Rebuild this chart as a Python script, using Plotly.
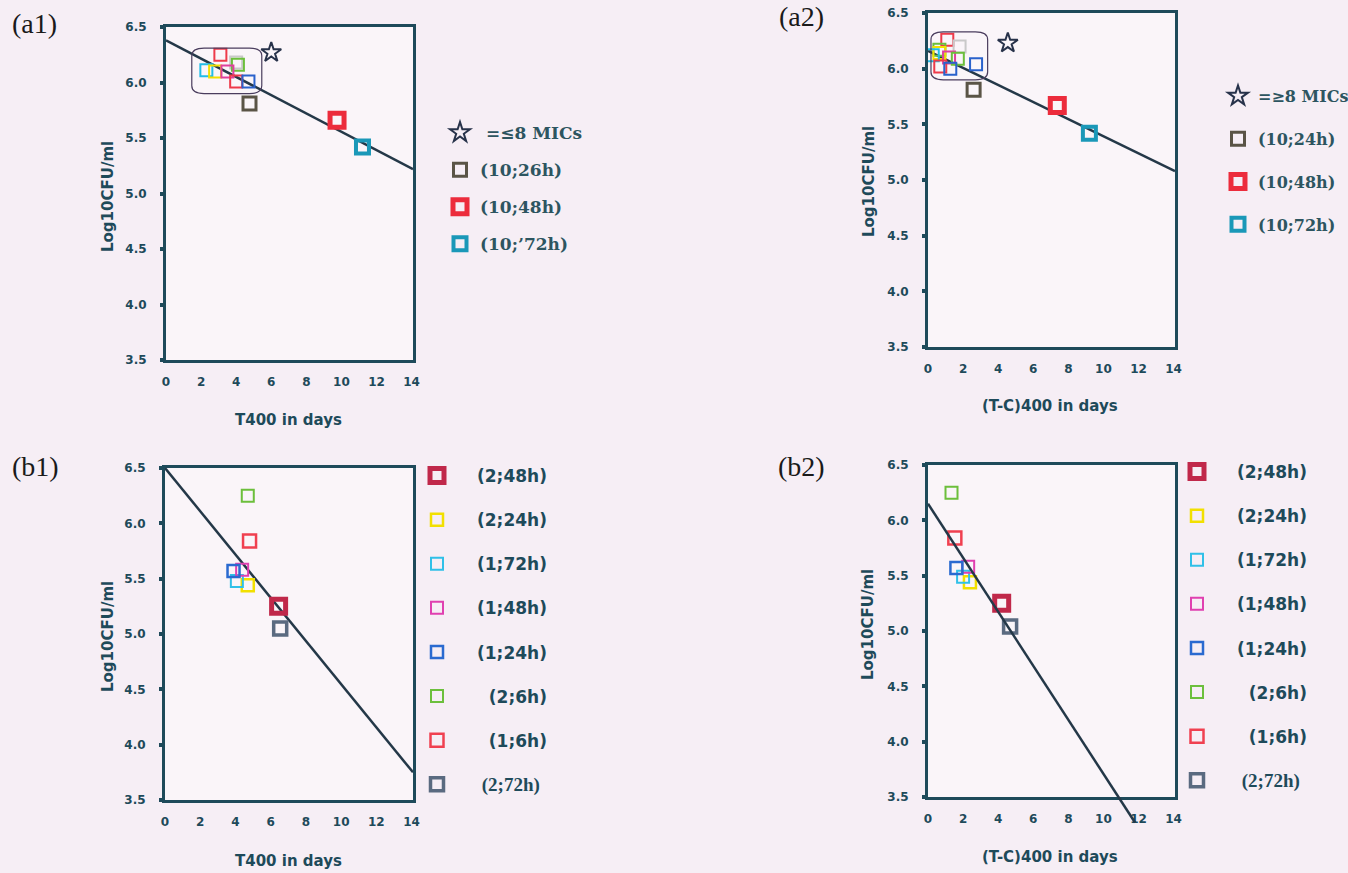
import plotly.graph_objects as go

W, H = 1348, 873

# ---------------- data ----------------
# (a1) T400 in days vs Log10CFU/ml
a1_cluster_x = [3.1, 2.3, 2.8, 4.0, 4.1, 3.5, 4.0, 4.7]
a1_cluster_y = [6.25, 6.11, 6.10, 6.18, 6.16, 6.10, 6.01, 6.01]
a1_cluster_colors = ["#ee3a4a", "#22bde8", "#f2e000", "#c9c9c9", "#6cbf3c", "#e0409e", "#ee3a4a", "#2a62cc"]
a1_star = (6.0, 6.27)
a1_labels = ["(10;26h)", "(10;48h)", "(10;\u201972h)"]
a1_x = [4.76, 9.75, 11.2]
a1_y = [5.81, 5.66, 5.42]
a1_line_x = [0, 14.08]
a1_line_y = [6.38, 5.22]
a1_box = [1.47, 5.46, 5.90, 6.31]

# (a2) (T-C)400 in days vs Log10CFU/ml
a2_cluster_x = [1.1, 1.8, 0.65, 0.65, 0.27, 1.2, 1.7, 0.7, 1.27, 2.74]
a2_cluster_y = [6.26, 6.20, 6.17, 6.14, 6.12, 6.10, 6.09, 6.02, 6.00, 6.04]
a2_cluster_colors = ["#ee3a4a", "#c9c9c9", "#6cbf3c", "#f2e000", "#22bde8", "#e0409e", "#6cbf3c", "#ee3a4a", "#2a62cc", "#2a62cc"]
a2_star = (4.55, 6.23)
a2_labels = ["(10;24h)", "(10;48h)", "(10;72h)"]
a2_x = [2.6, 7.37, 9.2]
a2_y = [5.81, 5.67, 5.42]
a2_line_x = [0, 14.08]
a2_line_y = [6.16, 5.08]
a2_box = [0.17, 3.40, 5.90, 6.33]

# (b1) / (b2)
b_labels = ["(2;48h)", "(2;24h)", "(1;72h)", "(1;48h)", "(1;24h)", "(2;6h)", "(1;6h)", "(2;72h)"]
b1_x = [6.45, 4.7, 4.08, 4.38, 3.89, 4.7, 4.8, 6.54]
b1_y = [5.25, 5.44, 5.48, 5.58, 5.57, 6.25, 5.84, 5.05]
b1_line_x = [0, 14.08]
b1_line_y = [6.5, 3.75]
b2_x = [4.2, 2.39, 2.0, 2.29, 1.62, 1.34, 1.53, 4.68]
b2_y = [5.25, 5.44, 5.49, 5.58, 5.57, 6.25, 5.84, 5.04]
b2_line_x = [0, 11.8]
b2_line_y = [6.15, 3.27]

x_ticks = [0, 2, 4, 6, 8, 10, 12, 14]
y_ticks = [3.5, 4.0, 4.5, 5.0, 5.5, 6.0, 6.5]

# ---------------- styles ----------------
INK = "#1e4a5a"
a_colors = ["#5a5446", "#ec2c3c", "#1a98b8"]
a_widths = [3, 5, 4]
a_sizes = [13, 14, 13]
b_colors = ["#c0284a", "#f2e000", "#30c0e8", "#e040b0", "#2a6ad0", "#6cbf3c", "#f04050", "#5a6a80"]
b_widths = [5, 2.5, 2, 2, 2.5, 2, 2.5, 3.5]
b_sizes = [14, 12, 12, 12, 12, 12, 13, 13]
STAR = "#27324a"

fig = go.Figure()

def dom_x(a, b):
    return [a / W, b / W]

def dom_y(top, bottom):
    return [1 - bottom / H, 1 - top / H]

panels = {
    "1": dict(x=dom_x(166, 413), y=dom_y(27, 360)),
    "2": dict(x=dom_x(928, 1175), y=dom_y(13, 347)),
    "3": dict(x=dom_x(165, 413), y=dom_y(468, 800)),
    "4": dict(x=dom_x(928, 1175), y=dom_y(465, 797)),
}

tickfont = dict(family="DejaVu Sans", size=12, color=INK, weight="bold")
layout_axes = {}
bg_shapes = []
for k, d in panels.items():
    sx = "xaxis" if k == "1" else f"xaxis{k}"
    sy = "yaxis" if k == "1" else f"yaxis{k}"
    anchor_y = "y" if k == "1" else f"y{k}"
    anchor_x = "x" if k == "1" else f"x{k}"
    layout_axes[sx] = dict(domain=d["x"], anchor=anchor_y, range=[0, 14.08], tickvals=x_ticks,
                           showgrid=False, zeroline=False, showline=True, mirror=True,
                           linecolor=INK, linewidth=3, ticks="", tickfont=tickfont,
                           ticklabelstandoff=9, fixedrange=True)
    layout_axes[sy] = dict(domain=d["y"], anchor=anchor_x, range=[3.5, 6.5], tickvals=y_ticks,
                           tickformat=".1f", showgrid=False, zeroline=False, showline=True,
                           mirror=True, linecolor=INK, linewidth=3, ticks="outside", ticklen=3,
                           tickwidth=4, tickcolor=INK, tickfont=tickfont, ticklabelstandoff=11,
                           fixedrange=True)
    bg_shapes.append(dict(type="rect", xref="paper", yref="paper", layer="below",
                          x0=d["x"][0], x1=d["x"][1], y0=d["y"][0], y1=d["y"][1],
                          fillcolor="#faf5f9", line=dict(width=0)))

# extended axis for b2 regression line (runs below the frame)
px_per_unit = (797 - 465) / 3.0
ext_bottom = 830
layout_axes["xaxis5"] = dict(domain=dom_x(928, 1175), anchor="y5", range=[0, 14.08], visible=False, fixedrange=True)
layout_axes["yaxis5"] = dict(domain=dom_y(465, ext_bottom), anchor="x5", visible=False, fixedrange=True,
                             range=[6.5 - (ext_bottom - 465) / px_per_unit, 6.5])

def sq(color, width, size):
    return dict(symbol="square-open", color=color, size=size, line=dict(color=color, width=width))

# ---- (b2) long regression line first (under the points) ----
fig.add_trace(go.Scatter(x=b2_line_x, y=b2_line_y, mode="lines", line=dict(color="#243848", width=2.5),
                         xaxis="x5", yaxis="y5", showlegend=False, hoverinfo="skip"))

# ---- (a) panels ----
for k, lg, cx, cy, cc, star, labs, xs, ys, lx, ly, star_lab in [
    ("", "legend", a1_cluster_x, a1_cluster_y, a1_cluster_colors, a1_star, a1_labels, a1_x, a1_y, a1_line_x, a1_line_y, " =\u22648 MICs"),
    ("2", "legend2", a2_cluster_x, a2_cluster_y, a2_cluster_colors, a2_star, a2_labels, a2_x, a2_y, a2_line_x, a2_line_y, "=\u22658 MICs"),
]:
    xa, ya = "x" + k, "y" + k
    fig.add_trace(go.Scatter(x=lx, y=ly, mode="lines", line=dict(color="#243848", width=2.5),
                             xaxis=xa, yaxis=ya, showlegend=False, hoverinfo="skip"))
    for x, y, c in zip(cx, cy, cc):
        fig.add_trace(go.Scatter(x=[x], y=[y], mode="markers", marker=sq(c, 2, 12),
                                 xaxis=xa, yaxis=ya, showlegend=False))
    fig.add_trace(go.Scatter(x=[star[0]], y=[star[1]], mode="markers", name=star_lab,
                             marker=dict(symbol="star-open", size=15, color=STAR, line=dict(color=STAR, width=2)),
                             xaxis=xa, yaxis=ya, legend=lg, legendgroup=lg + "s"))
    for i, (lab, x, y) in enumerate(zip(labs, xs, ys)):
        fig.add_trace(go.Scatter(x=[x], y=[y], mode="markers", name=lab,
                                 marker=sq(a_colors[i], a_widths[i], a_sizes[i]),
                                 xaxis=xa, yaxis=ya, legend=lg, legendgroup=lg + str(i)))

# ---- (b) panels ----
fig.add_trace(go.Scatter(x=b1_line_x, y=b1_line_y, mode="lines", line=dict(color="#243848", width=2.5),
                         xaxis="x3", yaxis="y3", showlegend=False, hoverinfo="skip"))

def b_name(lab, i):
    if i == len(b_labels) - 1:
        return f"<span style='font-family:Liberation Serif;font-size:19px'>\u00a0{lab}</span>"
    pad = "\u00a0\u00a0" if len(lab) < 7 else ""
    return pad + lab

for k, lg, xs, ys in [("3", "legend3", b1_x, b1_y), ("4", "legend4", b2_x, b2_y)]:
    for i, lab in enumerate(b_labels):
        fig.add_trace(go.Scatter(x=[xs[i]], y=[ys[i]], mode="markers", name=b_name(lab, i),
                                 marker=sq(b_colors[i], b_widths[i], b_sizes[i]),
                                 xaxis="x" + k, yaxis="y" + k, legend=lg, legendgroup=lg + str(i)))

# ---- shapes: rounded highlight boxes ----
def rounded(x0, x1, y0, y1, rx, ry):
    return (f"M {x0+rx},{y0} L {x1-rx},{y0} Q {x1},{y0} {x1},{y0+ry} L {x1},{y1-ry} "
            f"Q {x1},{y1} {x1-rx},{y1} L {x0+rx},{y1} Q {x0},{y1} {x0},{y1-ry} "
            f"L {x0},{y0+ry} Q {x0},{y0} {x0+rx},{y0} Z")

shapes = list(bg_shapes)
for (bx0, bx1, by0, by1), xr, yr in [(a1_box, "x", "y"), (a2_box, "x2", "y2")]:
    shapes.append(dict(type="path", xref=xr, yref=yr, path=rounded(bx0, bx1, by0, by1, 0.7, 0.07),
                       line=dict(color="#4a3d5e", width=1.2)))

# ---- annotations ----
ann = []
def a_text(text, x, y, size, family, angle=0, color=INK, bold=True):
    ann.append(dict(text=text, x=x / W, y=1 - y / H, xref="paper", yref="paper", showarrow=False,
                    textangle=angle, xanchor="center", yanchor="middle",
                    font=dict(size=size, family=family, color=color, weight="bold" if bold else "normal")))

for x, y in [(108, 197), (869, 182), (108, 637), (868, 625)]:
    a_text("Log10CFU/ml", x, y, 15, "DejaVu Sans", angle=-90)
for t, x, y in [("T400 in days", 288, 420), ("(T-C)400 in days", 1050, 406),
                ("T400 in days", 288, 861), ("(T-C)400 in days", 1050, 857)]:
    a_text(t, x, y, 15, "DejaVu Sans")
for t, x, y in [("(a1)", 34, 23), ("(a2)", 802, 16), ("(b1)", 35, 466), ("(b2)", 802, 466)]:
    a_text(t, x, y, 28, "Liberation Serif", color="#1a1a1a", bold=False)

a1_leg_font = dict(family="DejaVu Serif", size=17, color="#2d5560", weight="bold")
a2_leg_font = dict(family="DejaVu Serif", size=16, color="#2d5560", weight="bold")
b_leg_font = dict(family="DejaVu Sans", size=17, color="#1e4a5a", weight="bold")

def leg(x, y, font, gap, iw=30):
    return dict(x=x / W, y=1 - y / H, xanchor="left", yanchor="top", bgcolor="rgba(0,0,0,0)",
                font=font, tracegroupgap=gap, itemwidth=iw, traceorder="grouped")

fig.update_layout(
    width=W, height=H, margin=dict(l=0, r=0, t=0, b=0, autoexpand=False),
    paper_bgcolor="#f6eef5", plot_bgcolor="rgba(0,0,0,0)",
    shapes=shapes, annotations=ann, showlegend=True,
    legend=leg(440, 115, a1_leg_font, 12),
    legend2=leg(1218, 79, a2_leg_font, 19),
    legend3=leg(397, 458, b_leg_font, 19, 70),
    legend4=leg(1157, 454, b_leg_font, 19, 70),
    **layout_axes,
)

fig.write_html("out.html")
